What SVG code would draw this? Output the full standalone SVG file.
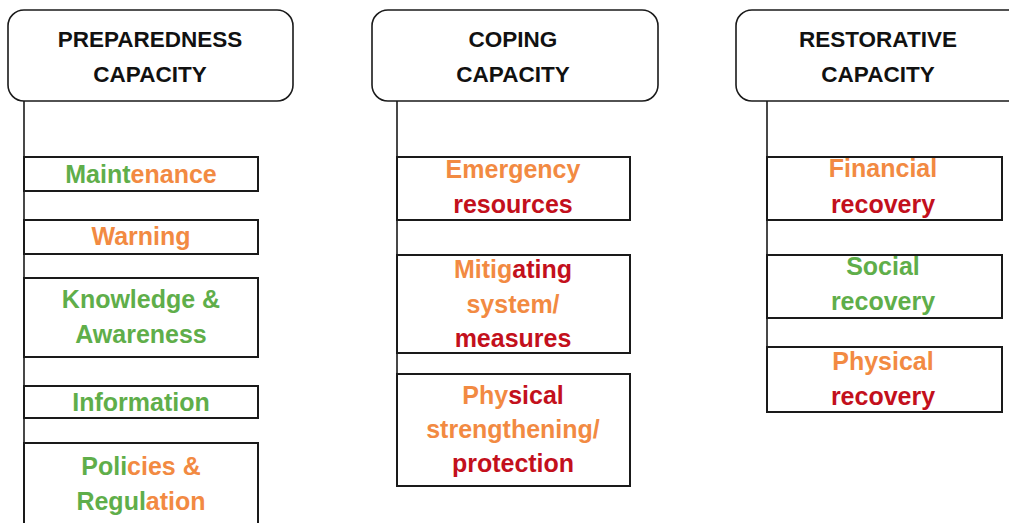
<svg xmlns="http://www.w3.org/2000/svg" width="1009" height="523" viewBox="0 0 1009 523">
  <style>
    .hdr { fill: #ffffff; stroke: #1a1a1a; stroke-width: 1.6; }
    .box { fill: #ffffff; stroke: #1a1a1a; stroke-width: 2; }
    .link { fill: none; stroke: #1a1a1a; stroke-width: 1.6; }
    .ht { font-family: "Liberation Sans", Arial, sans-serif; font-weight: bold; font-size: 22.5px; fill: #111111; text-anchor: middle; }
    .t { font-family: "Liberation Sans", Arial, sans-serif; font-weight: bold; font-size: 25px; text-anchor: middle; }
    .g { fill: #5fae4a; }
    .o { fill: #f28a42; }
    .r { fill: #c3101c; }
  </style>
  <rect width="1009" height="523" fill="#ffffff"/>

  <!-- vertical spines from each header down the item stack -->
  <g id="connectors">
    <line class="link" x1="24" y1="101" x2="24" y2="523"/>
    <line class="link" x1="397" y1="101" x2="397" y2="486"/>
    <line class="link" x1="767" y1="101" x2="767" y2="412"/>
  </g>

  <!-- Preparedness column -->
  <g id="preparedness">
    <rect class="hdr" x="8" y="10" width="285" height="91" rx="16"/>
    <text class="ht" x="150" y="47">PREPAREDNESS</text>
    <text class="ht" x="150" y="82">CAPACITY</text>
  </g>
  <g id="maintenance">
    <rect class="box" x="24" y="157" width="234" height="34"/>
    <text class="t" x="141" y="183"><tspan class="g">Maint</tspan><tspan class="o">enance</tspan></text>
  </g>
  <g id="warning">
    <rect class="box" x="24" y="220" width="234" height="34"/>
    <text class="t o" x="141" y="245">Warning</text>
  </g>
  <g id="knowledge">
    <rect class="box" x="24" y="278" width="234" height="79"/>
    <text class="t g" x="141" y="308">Knowledge &amp;</text>
    <text class="t g" x="141" y="343">Awareness</text>
  </g>
  <g id="information">
    <rect class="box" x="24" y="386" width="234" height="32"/>
    <text class="t g" x="141" y="411">Information</text>
  </g>
  <g id="policies">
    <rect class="box" x="24" y="443" width="234" height="90"/>
    <text class="t" x="141" y="475"><tspan class="g">Poli</tspan><tspan class="o">cies &amp;</tspan></text>
    <text class="t" x="141" y="510"><tspan class="g">Regul</tspan><tspan class="o">ation</tspan></text>
  </g>

  <!-- Coping column -->
  <g id="coping">
    <rect class="hdr" x="372" y="10" width="286" height="91" rx="16"/>
    <text class="ht" x="513" y="47">COPING</text>
    <text class="ht" x="513" y="82">CAPACITY</text>
  </g>
  <g id="emergency">
    <rect class="box" x="397" y="157" width="233" height="63"/>
    <text class="t o" x="513" y="178">Emergency</text>
    <text class="t r" x="513" y="213">resources</text>
  </g>
  <g id="mitigating">
    <rect class="box" x="397" y="255" width="233" height="98"/>
    <text class="t" x="513" y="278"><tspan class="o">Mitig</tspan><tspan class="r">ating</tspan></text>
    <text class="t o" x="513" y="313">system/</text>
    <text class="t r" x="513" y="347">measures</text>
  </g>
  <g id="strengthening">
    <rect class="box" x="397" y="374" width="233" height="112"/>
    <text class="t" x="513" y="404"><tspan class="o">Phy</tspan><tspan class="r">sical</tspan></text>
    <text class="t o" x="513" y="438">strengthening/</text>
    <text class="t r" x="513" y="472">protection</text>
  </g>

  <!-- Restorative column -->
  <g id="restorative">
    <rect class="hdr" x="736" y="10" width="290" height="91" rx="16"/>
    <text class="ht" x="878" y="47">RESTORATIVE</text>
    <text class="ht" x="878" y="82">CAPACITY</text>
  </g>
  <g id="financial">
    <rect class="box" x="767" y="157" width="235" height="63"/>
    <text class="t o" x="883" y="177">Financial</text>
    <text class="t r" x="883" y="213">recovery</text>
  </g>
  <g id="social">
    <rect class="box" x="767" y="255" width="235" height="63"/>
    <text class="t g" x="883" y="275">Social</text>
    <text class="t g" x="883" y="310">recovery</text>
  </g>
  <g id="physical">
    <rect class="box" x="767" y="347" width="235" height="65"/>
    <text class="t o" x="883" y="370">Physical</text>
    <text class="t r" x="883" y="405">recovery</text>
  </g>
</svg>
